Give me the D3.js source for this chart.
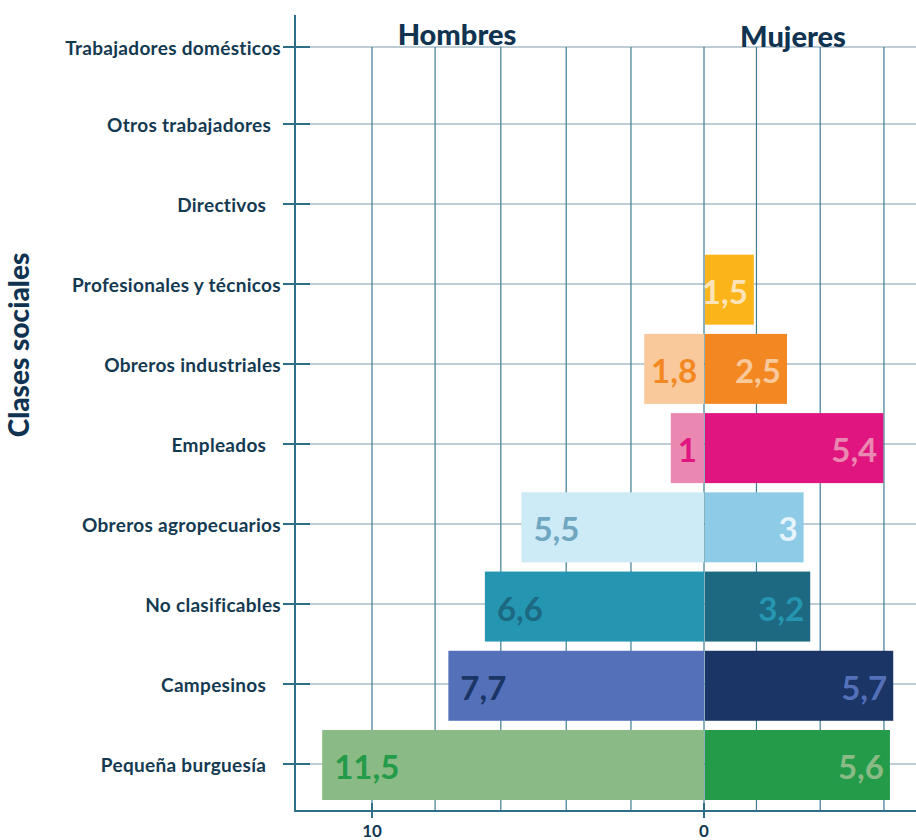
<!DOCTYPE html>
<html>
<head>
<meta charset="utf-8">
<script src="https://cdn.jsdelivr.net/npm/d3@7"></script>
<style>
  html, body { margin: 0; padding: 0; background: #ffffff; }
  svg { display: block; }
  text { font-family: Lato, "Open Sans", sans-serif; }
</style>
</head>
<body>
<div id="chart"></div>
<script>
// ---- Data ----
const categories = [
  "Trabajadores domésticos",
  "Otros trabajadores  ",
  "Directivos   ",
  "Profesionales y técnicos",
  "Obreros industriales",
  "Empleados   ",
  "Obreros agropecuarios",
  "No clasificables",
  "Campesinos   ",
  "Pequeña burguesía   "
];
const hombres = [0, 0, 0, 0, 1.8, 1, 5.5, 6.6, 7.7, 11.5];
const mujeres = [0, 0, 0, 1.5, 2.5, 5.4, 3, 3.2, 5.7, 5.6];
const hombresLabels = ["", "", "", "", "1,8", "1", "5,5", "6,6", "7,7", "11,5"];
const mujeresLabels = ["", "", "", "1,5", "2,5", "5,4", "3", "3,2", "5,7", "5,6"];
const hombresColors = ["#cccccc", "#cccccc", "#cccccc", "#cccccc", "#f9c89b", "#ea88b1", "#cdeaf7", "#2596b2", "#5470b8", "#8aba86"];
const mujeresColors = ["#cccccc", "#cccccc", "#cccccc", "#fbb51a", "#f38823", "#e0157f", "#8ecbe7", "#1d6982", "#1a3566", "#239b48"];
const hombresLabelColors = ["", "", "", "", "#f38823", "#e0157f", "#6fa6c0", "#1d6982", "#1a3566", "#239b48"];
const mujeresLabelColors = ["", "", "", "#fde4b8", "#f9c89b", "#ea88b1", "#e6f4fb", "#2596b2", "#5470b8", "#8aba86"];
const gridValues = [-10, -8.1, -6.12, -4.15, -2.2, 0, 1.58, 3.5, 5.42];
const xTickValues = [-10, 0];
const xTickLabels = ["10", "0"];
const groupTitles = ["Hombres", "Mujeres"];
const yTitle = "Clases sociales";

// ---- Layout ----
const W = 916, H = 840;
const axisX = 295, axisBottom = 811, axisTop = 15, gridTop = 47;

const svg = d3.select("#chart").append("svg")
  .attr("width", W).attr("height", H);

const x = d3.scaleLinear().domain([-10, 0]).range([372, 704]);
const y = d3.scalePoint().domain(categories).range([44, 764]);
const yBar = d3.scalePoint().domain(categories).range([52, 765]);
const barH = 70;
const tickY = d => y(d) + (d === categories[0] ? 3 : 0);

// horizontal grid lines (light)
svg.append("g").selectAll("line").data(categories).join("line")
  .attr("x1", axisX).attr("x2", W)
  .attr("y1", tickY).attr("y2", tickY)
  .attr("stroke", "#a8bbc7").attr("stroke-width", 1.5);

// vertical grid lines (dark teal)
svg.append("g").selectAll("line").data(gridValues).join("line")
  .attr("x1", d => x(d)).attr("x2", d => x(d))
  .attr("y1", gridTop).attr("y2", axisBottom)
  .attr("stroke", "#3e7d93").attr("stroke-width", 1.2);

// bars
const rows = categories.map((c, i) => ({ c, i }));
svg.append("g").selectAll("rect").data(rows.filter(r => hombres[r.i] > 0)).join("rect")
  .attr("x", r => x(-hombres[r.i]))
  .attr("width", r => x(0) - x(-hombres[r.i]))
  .attr("y", r => yBar(r.c) - barH / 2)
  .attr("height", barH)
  .attr("fill", r => hombresColors[r.i]);

svg.append("g").selectAll("rect").data(rows.filter(r => mujeres[r.i] > 0)).join("rect")
  .attr("x", x(0) + 1)
  .attr("width", r => x(mujeres[r.i]) - x(0) - 1)
  .attr("y", r => yBar(r.c) - barH / 2)
  .attr("height", barH)
  .attr("fill", r => mujeresColors[r.i]);

// bar labels
svg.append("g").selectAll("text").data(rows.filter(r => hombres[r.i] > 0)).join("text")
  .attr("x", r => {
    const x0 = x(-hombres[r.i]);
    const w = x(0) - x0;
    return w < 70 ? x0 + w / 2 : x0 + 12;
  })
  .attr("text-anchor", r => (x(0) - x(-hombres[r.i])) < 70 ? "middle" : "start")
  .attr("y", r => yBar(r.c) + 1)
  .attr("dominant-baseline", "central")
  .attr("font-size", 33).attr("font-weight", 700)
  .attr("fill", r => hombresLabelColors[r.i])
  .text(r => hombresLabels[r.i]);

svg.append("g").selectAll("text").data(rows.filter(r => mujeres[r.i] > 0)).join("text")
  .attr("x", r => x(mujeres[r.i]) - 6)
  .attr("text-anchor", "end")
  .attr("y", r => yBar(r.c) + 1)
  .attr("dominant-baseline", "central")
  .attr("font-size", 33).attr("font-weight", 700)
  .attr("fill", r => mujeresLabelColors[r.i])
  .text(r => mujeresLabels[r.i]);

// axes
const axisColor = "#2e6e86";
svg.append("line").attr("x1", axisX).attr("x2", axisX)
  .attr("y1", axisTop).attr("y2", axisBottom + 1)
  .attr("stroke", axisColor).attr("stroke-width", 2);
svg.append("line").attr("x1", axisX - 1).attr("x2", W)
  .attr("y1", axisBottom).attr("y2", axisBottom)
  .attr("stroke", axisColor).attr("stroke-width", 2);

// y ticks & labels
const yTicks = svg.append("g");
yTicks.selectAll("line").data(categories).join("line")
  .attr("x1", axisX - 12).attr("x2", axisX + 15)
  .attr("y1", tickY).attr("y2", tickY)
  .attr("stroke", axisColor).attr("stroke-width", 2);
yTicks.selectAll("text").data(categories).join("text")
  .attr("x", axisX - 14)
  .attr("y", tickY)
  .attr("dominant-baseline", "central")
  .attr("text-anchor", "end")
  .attr("xml:space", "preserve")
  .style("white-space", "pre")
  .attr("font-size", 19).attr("font-weight", 700)
  .attr("letter-spacing", 0.3)
  .attr("fill", "#143a52")
  .text(d => d);

// x ticks & labels
const xTicks = svg.append("g");
xTicks.selectAll("line").data(xTickValues).join("line")
  .attr("x1", d => x(d)).attr("x2", d => x(d))
  .attr("y1", axisBottom - 8).attr("y2", axisBottom + 7)
  .attr("stroke", axisColor).attr("stroke-width", 2);
xTicks.selectAll("text").data(xTickValues).join("text")
  .attr("x", d => x(d)).attr("y", 837)
  .attr("text-anchor", "middle")
  .attr("font-size", 17).attr("font-weight", 700)
  .attr("fill", "#143a52")
  .text((d, i) => xTickLabels[i]);

// group titles
svg.append("text").attr("x", 457).attr("y", 45)
  .attr("text-anchor", "middle").attr("font-size", 29).attr("font-weight", 900)
  .attr("fill", "#0f3350").text(groupTitles[0]);
svg.append("text").attr("x", 793).attr("y", 47)
  .attr("text-anchor", "middle").attr("font-size", 29).attr("font-weight", 900)
  .attr("fill", "#0f3350").text(groupTitles[1]);

// y title
svg.append("text")
  .attr("transform", "translate(29,345) rotate(-90)")
  .attr("text-anchor", "middle")
  .attr("font-size", 28).attr("font-weight", 900)
  .attr("fill", "#0f3350").text(yTitle);
</script>
</body>
</html>
